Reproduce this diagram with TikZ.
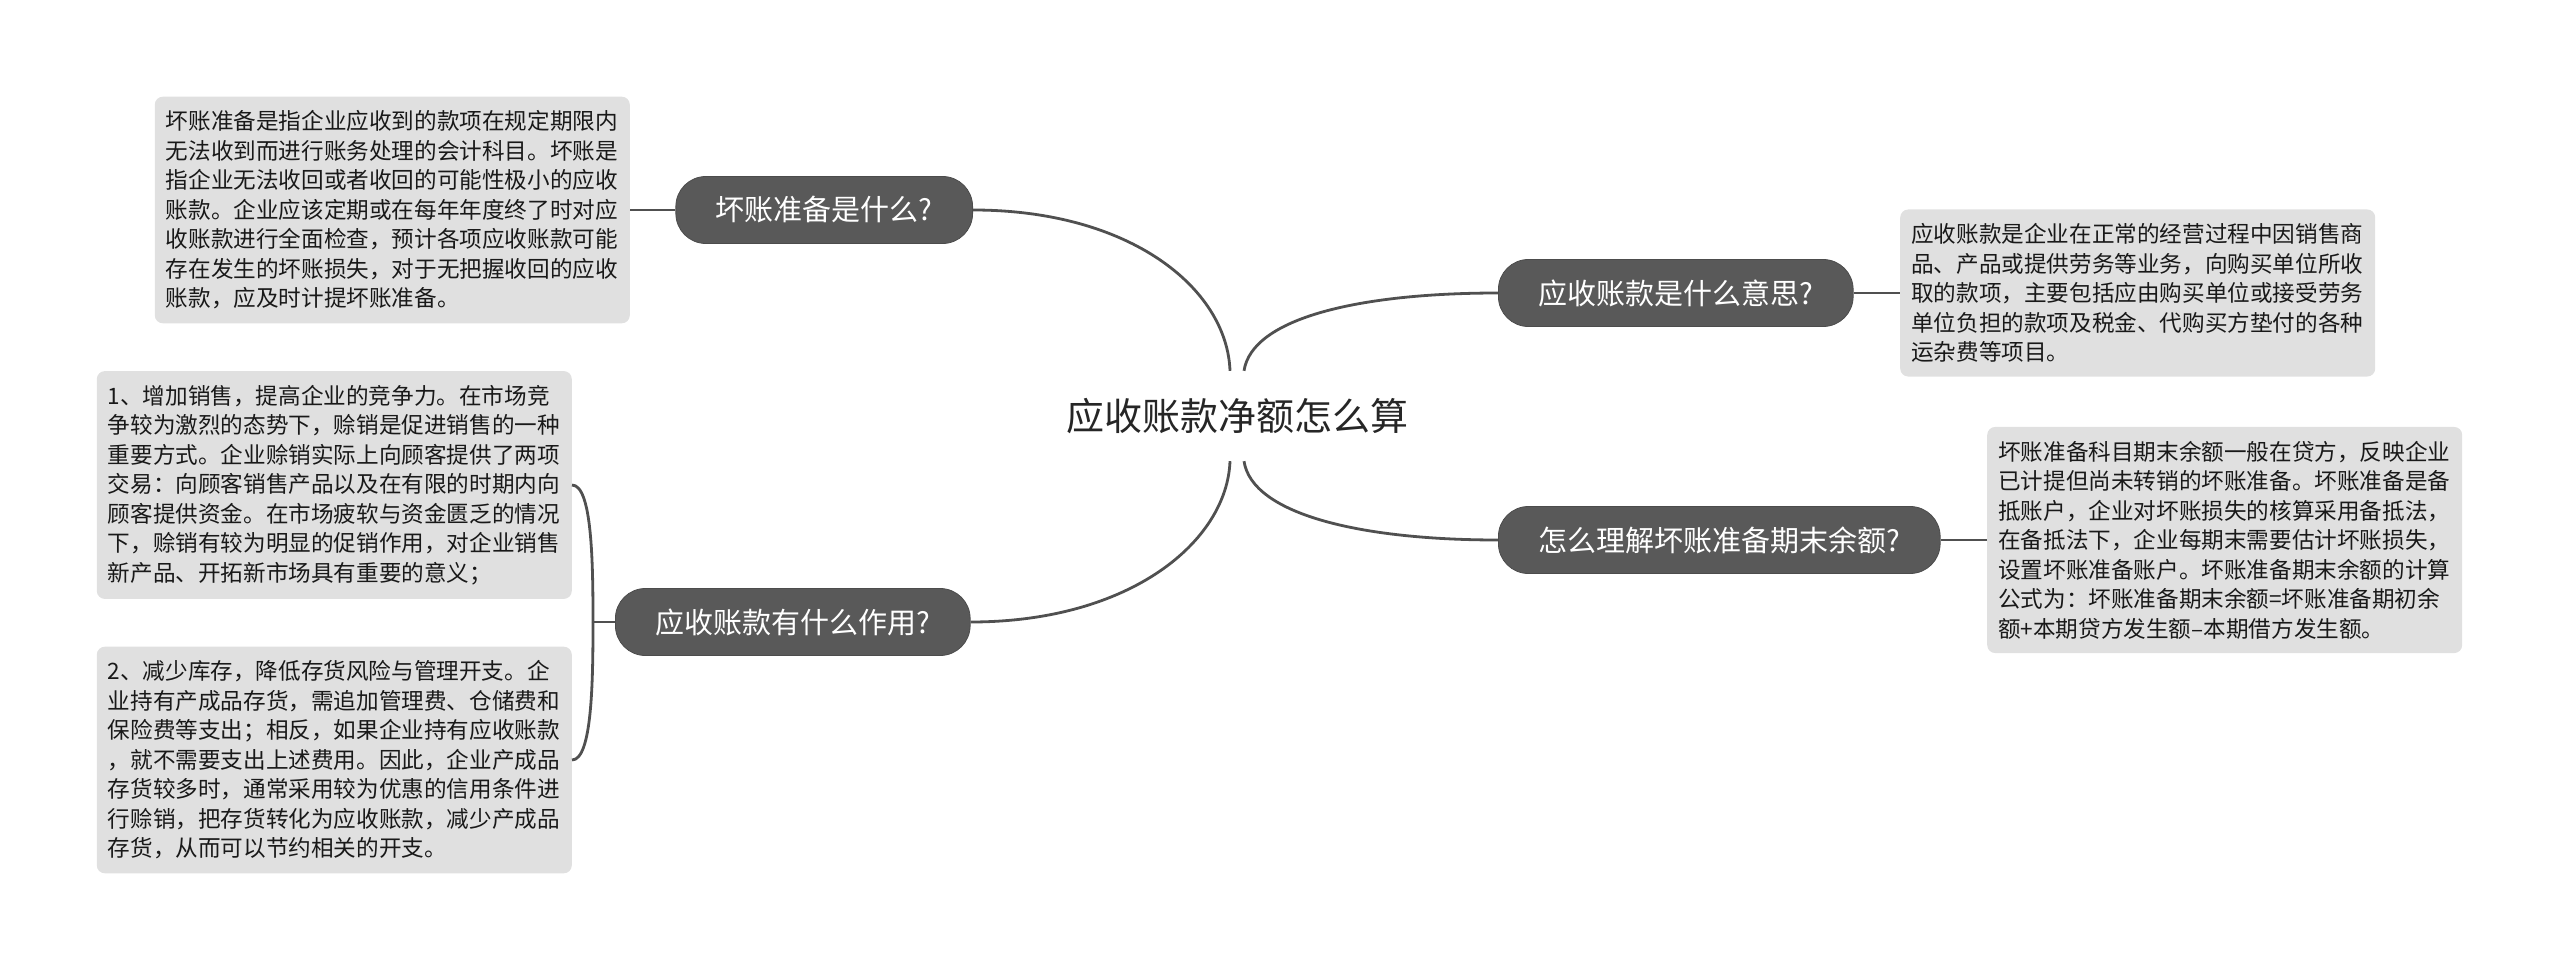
\documentclass[tikz,border=0pt]{standalone}
\usepackage{fontspec}
\usepackage{xcolor}
\usepackage{tikz}
\newfontfamily\cjk{Noto Sans CJK SC}
\definecolor{topiccolor}{HTML}{595959}
\definecolor{notecolor}{HTML}{E0E0E0}
\definecolor{linkcolor}{HTML}{505050}

\begin{document}
\begin{tikzpicture}[
    x=1pt, y=-1pt,
    root/.style={inner xsep=0pt, minimum height=90pt,
                 text=black!85,
                 font=\cjk\fontsize{38}{44}\selectfont},
    topic/.style={rectangle, draw=black!70, line width=0.8pt,
                  rounded corners=30pt,
                  fill=topiccolor, text=white,
                  inner xsep=40pt, minimum height=67pt,
                  font=\cjk\fontsize{29}{34}\selectfont},
    note/.style={rectangle, rounded corners=8pt,
                 fill=notecolor, text=black!90,
                 text width=453pt, align=left,
                 inner xsep=11pt, inner ysep=14pt,
                 font=\cjk\fontsize{22.6}{29.5}\selectfont},
    link/.style={draw=linkcolor, line width=2.8pt}
]
\useasboundingbox (0,0) rectangle (2560,971);

\node[root] (root) at (1237,416) {应收账款净额怎么算};

\node[topic, anchor=east] (bad) at (973,210) {坏账准备是什么?};
\node[topic, anchor=west] (mean) at (1498,293) {应收账款是什么意思?};
\node[topic, anchor=west] (bal) at (1498,540) {怎么理解坏账准备期末余额?};
\node[topic, anchor=west] (use) at (615,622) {应收账款有什么作用?};

\node[note, anchor=east] (badtxt) at (630,210) {坏账准备是指企业应收到的款项在规定期限内\\
无法收到而进行账务处理的会计科目。坏账是\\
指企业无法收回或者收回的可能性极小的应收\\
账款。企业应该定期或在每年年度终了时对应\\
收账款进行全面检查，预计各项应收账款可能\\
存在发生的坏账损失，对于无把握收回的应收\\
账款，应及时计提坏账准备。};
\node[note, anchor=west] (meantxt) at (1900,293) {应收账款是企业在正常的经营过程中因销售商\\
品、产品或提供劳务等业务，向购买单位所收\\
取的款项，主要包括应由购买单位或接受劳务\\
单位负担的款项及税金、代购买方垫付的各种\\
运杂费等项目。};
\node[note, anchor=west] (baltxt) at (1987,540) {坏账准备科目期末余额一般在贷方，反映企业\\
已计提但尚未转销的坏账准备。坏账准备是备\\
抵账户，企业对坏账损失的核算采用备抵法，\\
在备抵法下，企业每期末需要估计坏账损失，\\
设置坏账准备账户。坏账准备期末余额的计算\\
公式为：坏账准备期末余额=坏账准备期初余\\
额+本期贷方发生额–本期借方发生额。};
\node[note, anchor=east] (usea) at (572,485) {1、增加销售，提高企业的竞争力。在市场竞\\
争较为激烈的态势下，赊销是促进销售的一种\\
重要方式。企业赊销实际上向顾客提供了两项\\
交易：向顾客销售产品以及在有限的时期内向\\
顾客提供资金。在市场疲软与资金匮乏的情况\\
下，赊销有较为明显的促销作用，对企业销售\\
新产品、开拓新市场具有重要的意义；};
\node[note, anchor=east] (useb) at (572,760) {2、减少库存，降低存货风险与管理开支。企\\
业持有产成品存货，需追加管理费、仓储费和\\
保险费等支出；相反，如果企业持有应收账款\\
，就不需要支出上述费用。因此，企业产成品\\
存货较多时，通常采用较为优惠的信用条件进\\
行赊销，把存货转化为应收账款，减少产成品\\
存货，从而可以节约相关的开支。};

% branches from the centre
\draw[link] ([xshift=-7pt]root.north) .. controls +(-3,-82) and +(158,0) .. (bad.east);
\draw[link] ([xshift=7pt]root.north) .. controls +(8,-53) and +(-138,0) .. (mean.west);
\draw[link] ([xshift=7pt]root.south) .. controls +(8,53) and +(-138,0) .. (bal.west);
\draw[link] ([xshift=-7pt]root.south) .. controls +(-3,80) and +(160,0) .. (use.east);

% topics to their notes
\draw[link] (bad.west) -- (badtxt.east);
\draw[link] (mean.east) -- (meantxt.west);
\draw[link] (bal.east) -- (baltxt.west);

\coordinate (fork) at ([xshift=-22pt]use.west);
\draw[link] (use.west) -- (fork);
\draw[link] (fork) .. controls +(0,-60) and +(20,0) .. (usea.east);
\draw[link] (fork) .. controls +(0,60) and +(20,0) .. (useb.east);
\end{tikzpicture}
\end{document}
